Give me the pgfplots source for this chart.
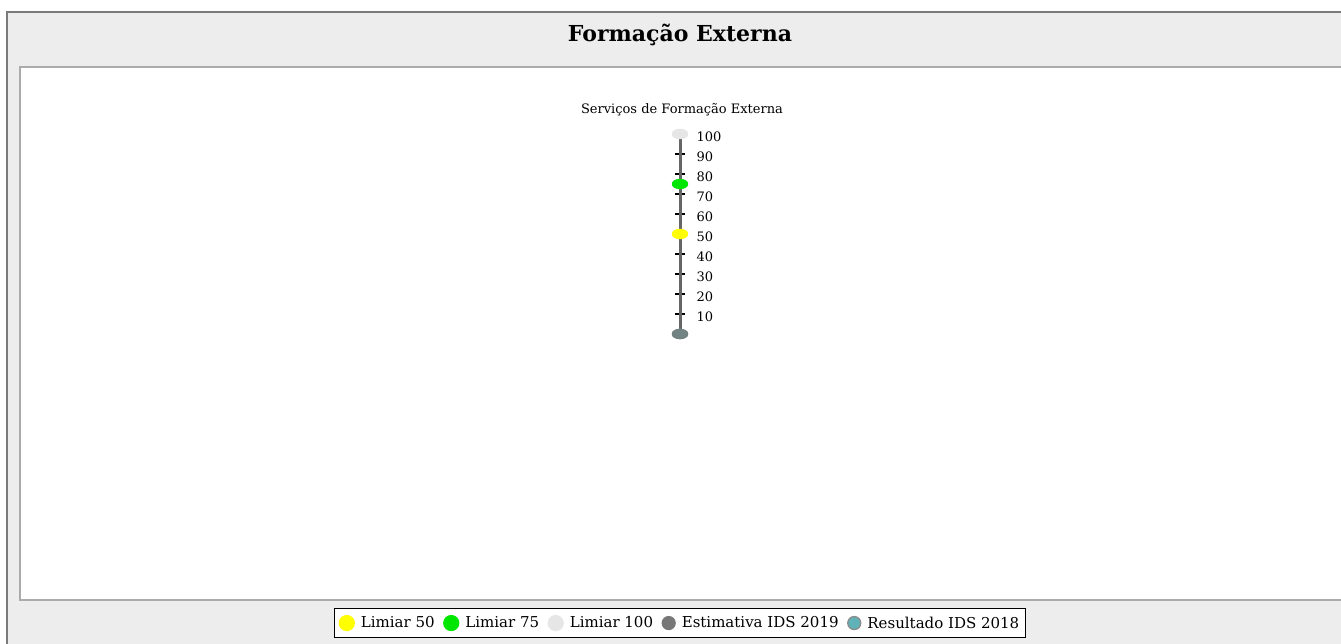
\documentclass[border=0pt]{standalone}
\usepackage{pgfplots}
\pgfplotsset{compat=1.18}
\usepackage{fontspec}
\setmainfont{DejaVu Serif}
\definecolor{panelgray}{HTML}{EDEDED}
\definecolor{panelborder}{HTML}{7A7A7A}
\definecolor{innerborder}{HTML}{ABABAB}
\definecolor{axisgray}{HTML}{666666}
\definecolor{lim50}{HTML}{FFFF00}
\definecolor{lim75}{HTML}{00E600}
\definecolor{lim100}{HTML}{E6E6E6}
\definecolor{estim}{HTML}{777777}
\definecolor{result}{HTML}{5FB3B8}
\begin{document}
\begin{tikzpicture}[x=1pt,y=1pt]
\useasboundingbox (0,0) rectangle (1341,643);
\begin{scope}
\clip (0,0) rectangle (1341,643);
\filldraw[fill=panelgray, draw=panelborder, line width=1.5pt] (7,-10) rectangle (1360,631);
\filldraw[fill=white, draw=innerborder, line width=1.5pt] (20,43) rectangle (1360,576);
\end{scope}
\node[font=\bfseries\fontsize{22}{26}\selectfont] at (680,608) {Formação Externa};
\node[font=\fontsize{13}{15}\selectfont] at (682,533) {Serviços de Formação Externa};
\begin{axis}[
  at={(680pt,309pt)}, anchor=south east,
  scale only axis, width=10pt, height=200pt,
  xmin=-1, xmax=0, ymin=0, ymax=100,
  axis x line=none, axis y line=right,
  axis line style={-, draw=axisgray, line width=2.5pt},
  ytick={10,20,...,100},
  tick align=center, major tick length=10pt,
  ytick style={black, line width=1.5pt},
  yticklabel style={font=\fontsize{13}{15}\selectfont, xshift=8pt, yshift=-3pt},
  /pgf/number format/assume math mode=true,
  clip=false,
  legend columns=5,
  legend style={at={(1,-1.37)}, anchor=north, draw=black, line width=1.2pt,
    fill=white, font=\fontsize{15}{18}\selectfont, inner xsep=4pt, inner ysep=6pt,
    nodes={inner xsep=2pt},
    /tikz/every even column/.append style={column sep=6.5pt},
    /tikz/every odd column/.append style={column sep=4pt}},
  legend cell align=left,
]
\addplot[forget plot, axisgray, line width=3pt] coordinates {(0,0) (0,100)};
\addplot[forget plot, color=lim100, only marks, mark=*, mark size=5pt, mark options={xscale=1.6, draw=none, fill=lim100}] coordinates {(0,100)};
\addplot[forget plot, color=lim75, only marks, mark=*, mark size=5pt, mark options={xscale=1.6, draw=none, fill=lim75}] coordinates {(0,75)};
\addplot[forget plot, color=lim50, only marks, mark=*, mark size=5pt, mark options={xscale=1.6, draw=none, fill=lim50}] coordinates {(0,50)};
\addplot[forget plot, color=result, only marks, mark=*, mark size=5pt, mark options={xscale=1.6, draw=none, fill=result}] coordinates {(0,0)};
\addplot[forget plot, color=estim, only marks, mark=*, mark size=5pt, mark options={xscale=1.6, draw=none, fill=estim, fill opacity=0.8}] coordinates {(0,0)};
\addlegendimage{legend image code/.code={\fill[lim50] (0pt,0pt) circle (7.5pt);}}
\addlegendentry{Limiar 50}
\addlegendimage{legend image code/.code={\fill[lim75] (0pt,0pt) circle (7.5pt);}}
\addlegendentry{Limiar 75}
\addlegendimage{legend image code/.code={\fill[lim100] (0pt,0pt) circle (7.5pt);}}
\addlegendentry{Limiar 100}
\addlegendimage{legend image code/.code={\fill[estim] (0pt,0pt) circle (6.5pt);}}
\addlegendentry{Estimativa IDS 2019}
\addlegendimage{legend image code/.code={\filldraw[fill=result, draw=gray!90, line width=1.3pt] (0pt,0pt) circle (6.5pt);}}
\addlegendentry{Resultado IDS 2018}
\end{axis}
\end{tikzpicture}
\end{document}
